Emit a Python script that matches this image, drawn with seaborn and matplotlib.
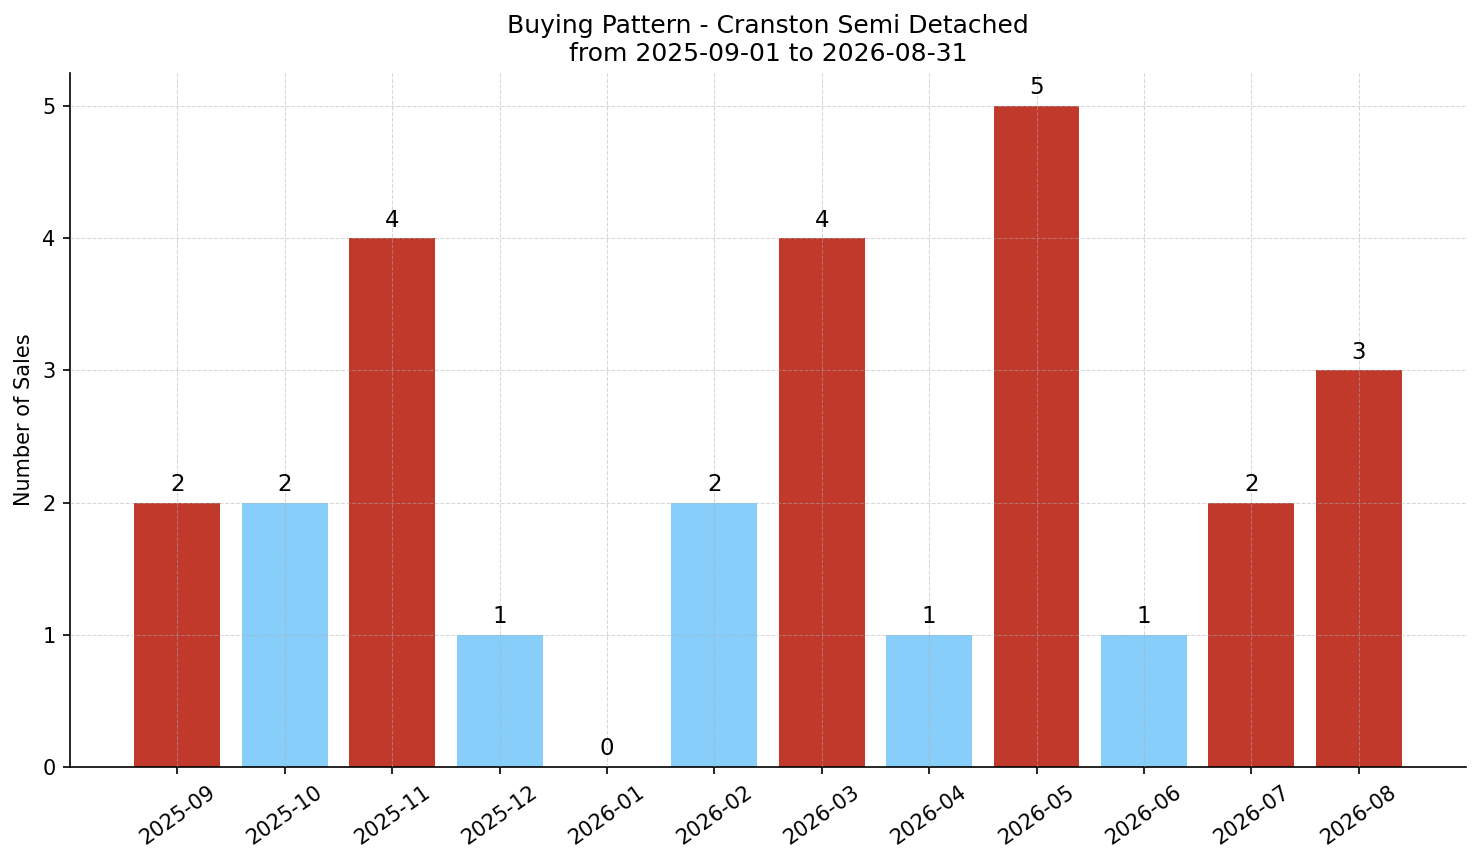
import matplotlib
matplotlib.use("Agg")
import matplotlib.pyplot as plt
import seaborn as sns
import pandas as pd

months = ["2025-09", "2025-10", "2025-11", "2025-12", "2026-01", "2026-02",
          "2026-03", "2026-04", "2026-05", "2026-06", "2026-07", "2026-08"]
sales = [2, 2, 4, 1, 0, 2, 4, 1, 5, 1, 2, 3]
bar_colors = ["#c0392b", "#87cefa", "#c0392b", "#87cefa", "#87cefa", "#87cefa",
              "#c0392b", "#87cefa", "#c0392b", "#87cefa", "#c0392b", "#c0392b"]

plt.rcParams["font.family"] = ["DejaVu Sans"]
plt.rcParams["axes.axisbelow"] = "line"

df = pd.DataFrame({"month": months, "sales": sales})

fig, ax = plt.subplots(figsize=(1481 / 150, 863 / 150), dpi=150)
sns.barplot(data=df, x="month", y="sales", hue="month", palette=bar_colors,
            legend=False, width=0.8, saturation=1, linewidth=0, ax=ax)
ax.grid(True, linestyle="--", color="#b0b0b0", linewidth=0.5, alpha=0.5)
ax.set_axisbelow(False)

for i, v in enumerate(sales):
    ax.text(i, v + 0.05, str(v), ha="center", va="bottom", fontsize=11)

ax.set_title("Buying Pattern - Cranston Semi Detached\nfrom 2025-09-01 to 2026-08-31",
             fontsize=12)
ax.set_xlabel("")
ax.set_ylabel("Number of Sales", fontsize=10)
ax.set_ylim(0, 5.25)
ax.set_xlim(-1.0, 12.0)
ax.set_yticks([0, 1, 2, 3, 4, 5])
ax.tick_params(axis="x", labelrotation=35, labelsize=10)
ax.tick_params(axis="y", labelsize=10)
for lab in ax.get_xticklabels():
    lab.set_ha("center")
sns.despine(ax=ax)
fig.subplots_adjust(left=0.0473, right=0.9899, top=0.9154, bottom=0.1112)
fig.savefig("out.png", dpi=150)
